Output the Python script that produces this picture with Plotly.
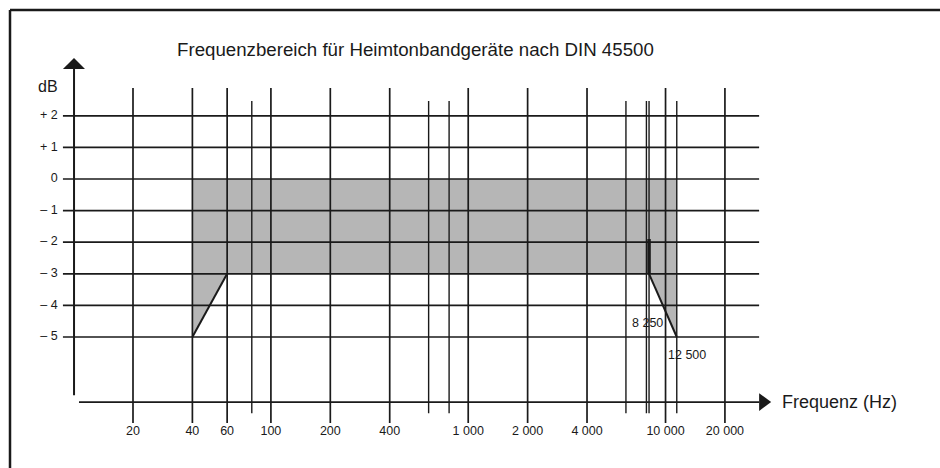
import math
import plotly.graph_objects as go

# ---------------- data ----------------
long_lines_hz = [20, 40, 60, 100, 200, 400, 1000, 2000, 4000, 10000, 20000]
short_lines_hz = [80, 630, 800, 6300, 8000, 8250, 11400]   # 12 500 line as drawn
tick_labels = ["20", "40", "60", "100", "200", "400", "1 000", "2 000", "4 000", "10 000", "20 000"]
db_levels = [2, 1, 0, -1, -2, -3, -4, -5]
db_labels = ["+ 2", "+ 1", "0", "\u2013 1", "\u2013 2", "\u2013 3", "\u2013 4", "\u2013 5"]

# tolerance field (DIN 45500): 40 Hz ... 12 500 Hz, 0 ... -3 dB with slopes
band_hz = [40, 11400, 11400, 8250, 60, 40]
band_db = [0, 0, -5, -3, -3, -5]
low_slope_hz, low_slope_db = [60, 40], [-3, -5]
high_slope_hz, high_slope_db = [8250, 11400], [-3, -5]
marker_hz, marker_db = [8250, 8250], [-1.9, -3]
corner_labels = ["8 250", "12 500"]

title_text = "Frequenzbereich f\u00fcr Heimtonbandger\u00e4te nach DIN 45500"

# ---------------- layout constants ----------------
W, H = 940, 468
X_RANGE = [0.627, 5.391]        # log10(Hz)
Y_RANGE = [-9.146, 5.665]       # dB
INK = "#1a1a1a"
FILL = "#b6b6b6"
FONT = "Liberation Sans, Arial, sans-serif"

GRID_LEFT, GRID_RIGHT = 8.83, 29800
LONG_TOP, LONG_BOT = 2.88, -7.72
SHORT_TOP, SHORT_BOT = 2.47, -7.41
YAXIS_HZ, YAXIS_BOT, YAXIS_TOP = 10.05, -6.84, 3.48
XAXIS_DB, XAXIS_LEFT, XAXIS_RIGHT = -7.06, 10.65, 29800
TICK_DB = -8.0
YLAB_HZ = 8.3


def seg_lines(xs_pairs, ys_pairs):
    X, Y = [], []
    for (xa, xb), (ya, yb) in zip(xs_pairs, ys_pairs):
        X += [xa, xb, None]
        Y += [ya, yb, None]
    return X, Y


fig = go.Figure()

# shaded tolerance field
fig.add_trace(go.Scatter(x=band_hz, y=band_db, fill="toself", fillcolor=FILL,
                         mode="none", hoverinfo="skip"))

# horizontal grid lines
hx, hy = seg_lines([(GRID_LEFT, GRID_RIGHT)] * len(db_levels), [(d, d) for d in db_levels])
fig.add_trace(go.Scatter(x=hx, y=hy, mode="lines", line=dict(color=INK, width=1.7), hoverinfo="skip"))

# vertical lines (long)
vx, vy = seg_lines([(f, f) for f in long_lines_hz], [(LONG_TOP, LONG_BOT)] * len(long_lines_hz))
fig.add_trace(go.Scatter(x=vx, y=vy, mode="lines", line=dict(color=INK, width=1.7), hoverinfo="skip"))
# vertical lines (short)
sx, sy = seg_lines([(f, f) for f in short_lines_hz], [(SHORT_TOP, SHORT_BOT)] * len(short_lines_hz))
fig.add_trace(go.Scatter(x=sx, y=sy, mode="lines", line=dict(color=INK, width=1.4), hoverinfo="skip"))

# slopes
fig.add_trace(go.Scatter(x=low_slope_hz, y=low_slope_db, mode="lines",
                         line=dict(color=INK, width=2), hoverinfo="skip"))
fig.add_trace(go.Scatter(x=high_slope_hz, y=high_slope_db, mode="lines",
                         line=dict(color=INK, width=2), hoverinfo="skip"))
fig.add_trace(go.Scatter(x=marker_hz, y=marker_db, mode="lines",
                         line=dict(color=INK, width=3.5), hoverinfo="skip"))

# y axis with arrow
fig.add_trace(go.Scatter(x=[YAXIS_HZ, YAXIS_HZ], y=[YAXIS_BOT, YAXIS_TOP], mode="lines",
                         line=dict(color=INK, width=2), hoverinfo="skip"))
fig.add_trace(go.Scatter(x=[8.83, 11.42, 10.05, 8.83], y=[3.48, 3.48, 3.83, 3.48],
                         fill="toself", fillcolor=INK, mode="none", hoverinfo="skip"))
# x axis with arrow
fig.add_trace(go.Scatter(x=[XAXIS_LEFT, XAXIS_RIGHT], y=[XAXIS_DB, XAXIS_DB], mode="lines",
                         line=dict(color=INK, width=1.6), hoverinfo="skip"))
fig.add_trace(go.Scatter(x=[29800, 29800, 34300, 29800],
                         y=[XAXIS_DB + 0.28, XAXIS_DB - 0.28, XAXIS_DB, XAXIS_DB + 0.28],
                         fill="toself", fillcolor=INK, mode="none", hoverinfo="skip"))

# tick labels
fig.add_trace(go.Scatter(x=long_lines_hz, y=[TICK_DB] * len(long_lines_hz), mode="text",
                         text=tick_labels, textposition="middle center",
                         textfont=dict(family=FONT, size=12.5, color=INK), hoverinfo="skip"))
fig.add_trace(go.Scatter(x=[YLAB_HZ] * len(db_levels), y=db_levels, mode="text",
                         text=db_labels, textposition="middle left",
                         textfont=dict(family=FONT, size=12.5, color=INK), hoverinfo="skip"))

annotations = [
    dict(text=title_text, xref="paper", yref="paper", x=175 / W, y=1 - 50 / H,
         xanchor="left", yanchor="middle", showarrow=False,
         font=dict(family=FONT, size=18.7, color=INK)),
    dict(text="dB", xref="paper", yref="paper", x=48 / W, y=1 - 86 / H,
         xanchor="center", yanchor="middle", showarrow=False,
         font=dict(family=FONT, size=16, color=INK)),
    dict(text="Frequenz (Hz)", xref="paper", yref="paper", x=780 / W, y=1 - 402 / H,
         xanchor="left", yanchor="middle", showarrow=False,
         font=dict(family=FONT, size=18, color=INK)),
    dict(text=corner_labels[0], xref="x", yref="y", x=math.log10(marker_hz[0]), y=-4.56,
         xanchor="center", yanchor="middle", showarrow=False, xshift=-2,
         font=dict(family=FONT, size=12.5, color=INK)),
    dict(text=corner_labels[1], xref="x", yref="y", x=math.log10(high_slope_hz[1]), y=-5.57,
         xanchor="center", yanchor="middle", showarrow=False, xshift=10,
         font=dict(family=FONT, size=12.5, color=INK)),
]

shapes = [
    dict(type="line", xref="paper", yref="paper", x0=10 / W, x1=1.0, y0=1 - 10 / H, y1=1 - 10 / H,
         line=dict(color=INK, width=2.5)),
    dict(type="line", xref="paper", yref="paper", x0=10 / W, x1=10 / W, y0=0, y1=1 - 10 / H,
         line=dict(color=INK, width=2.5)),
]

fig.update_layout(
    width=W, height=H, margin=dict(l=0, r=0, t=0, b=0),
    paper_bgcolor="white", plot_bgcolor="white", showlegend=False,
    xaxis=dict(type="log", range=X_RANGE, showgrid=False, zeroline=False, showline=False,
               showticklabels=False, ticks="", fixedrange=True),
    yaxis=dict(range=Y_RANGE, showgrid=False, zeroline=False, showline=False,
               showticklabels=False, ticks="", fixedrange=True),
    annotations=annotations, shapes=shapes,
)

fig.write_html(
    "out.html",
    config={"displayModeBar": False, "staticPlot": True},
    post_script="document.body.style.margin='0';document.body.style.padding='0';"
                "document.body.style.overflow='hidden';",
)
